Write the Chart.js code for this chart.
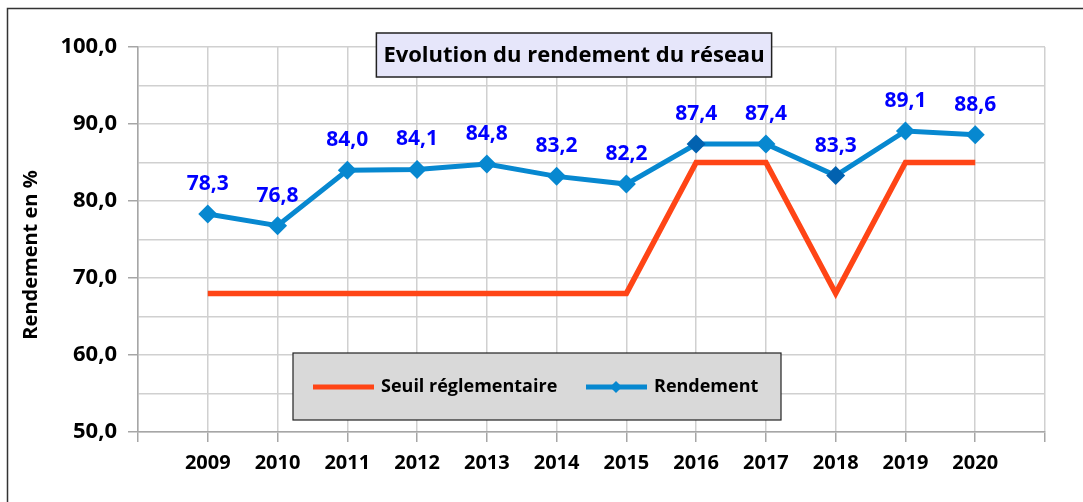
<!DOCTYPE html>
<html>
<head>
<meta charset="utf-8">
<script src="https://cdn.jsdelivr.net/npm/chart.js@4/dist/chart.umd.min.js"></script>
<style>
  html, body { margin: 0; padding: 0; background: #fff; }
  #wrap { position: relative; width: 1083px; height: 502px; }
</style>
</head>
<body>
<div id="wrap"><canvas id="rendementChart"></canvas></div>
<script>
// Données
const annees = ['2009', '2010', '2011', '2012', '2013', '2014', '2015', '2016', '2017', '2018', '2019', '2020'];
const rendement = [78.3, 76.8, 84.0, 84.1, 84.8, 83.2, 82.2, 87.4, 87.4, 83.3, 89.1, 88.6];
const seuil = [68, 68, 68, 68, 68, 68, 68, 85, 85, 68, 85, 85];
const yTicks = [50, 60, 70, 80, 90, 100];

const titre = 'Evolution du rendement du réseau';
const titreAxeY = 'Rendement en %';
const FONT = "'Open Sans', 'DejaVu Sans', sans-serif";

// une case vide de chaque côté, comme sur l'original
const labels = [''].concat(annees, ['']);
const pad = arr => [null].concat(arr, [null]);
const frNum = v => v.toFixed(1).replace('.', ',');

const BLUE = '#0788D0';
const BLUE_DARK = '#0262B0';
const ORANGE = '#FF4516';
const darkPts = ['2016', '2018'];

const decorPlugin = {
    id: 'decor',
    beforeDraw: (chart) => {
        const c = chart.ctx;
        c.save();
        c.fillStyle = '#fff';
        c.fillRect(0, 0, chart.width, chart.height);
        c.restore();
    },
    afterDraw: (chart) => {
        const c = chart.ctx;
        c.save();
        // cadre extérieur
        c.strokeStyle = '#333';
        c.lineWidth = 1.5;
        c.beginPath();
        c.moveTo(7.5, chart.height);
        c.lineTo(7.5, 8.5);
        c.lineTo(chart.width, 8.5);
        c.stroke();

        // titre de l'axe Y
        c.save();
        c.translate(31, 255);
        c.rotate(-Math.PI / 2);
        c.font = 'bold 20px ' + FONT;
        c.fillStyle = '#000';
        c.textAlign = 'center';
        c.textBaseline = 'middle';
        c.fillText(titreAxeY, 0, 0);
        c.restore();

        // titre encadré
        c.font = 'bold 22px ' + FONT;
        const tw = c.measureText(titre).width;
        const cx = 574, cy = 55;
        const bw = tw + 14, bh = 44;
        c.fillStyle = '#E6E6FA';
        c.fillRect(cx - bw / 2, cy - bh / 2, bw, bh);
        c.strokeStyle = '#222';
        c.lineWidth = 1.5;
        c.strokeRect(cx - bw / 2, cy - bh / 2, bw, bh);
        c.fillStyle = '#000';
        c.textAlign = 'center';
        c.textBaseline = 'middle';
        c.fillText(titre, cx, cy + 1);

        // légende
        const lx = 293, ly = 353, lw = 488, lh = 67;
        c.fillStyle = '#D9D9D9';
        c.fillRect(lx, ly, lw, lh);
        c.strokeStyle = '#222';
        c.lineWidth = 1.2;
        c.strokeRect(lx, ly, lw, lh);
        const items = [
            { ds: chart.data.datasets[0], x: 313 },
            { ds: chart.data.datasets[1], x: 586 }
        ];
        const my = ly + 34;
        c.font = 'bold 18px ' + FONT;
        c.textAlign = 'left';
        c.textBaseline = 'middle';
        items.forEach(it => {
            c.strokeStyle = it.ds.borderColor;
            c.lineWidth = 5;
            c.beginPath();
            c.moveTo(it.x, my);
            c.lineTo(it.x + 61, my);
            c.stroke();
            if (it.ds.pointRadius > 0) {
                const r = 6, px = it.x + 30;
                c.fillStyle = it.ds.borderColor;
                c.beginPath();
                c.moveTo(px - r, my); c.lineTo(px, my - r);
                c.lineTo(px + r, my); c.lineTo(px, my + r);
                c.closePath();
                c.fill();
            }
            c.fillStyle = '#000';
            c.fillText(it.ds.label, it.x + 68, my);
        });

        // étiquettes de valeurs
        const meta = chart.getDatasetMeta(1);
        c.font = 'bold 21px ' + FONT;
        c.fillStyle = '#0000FF';
        c.textAlign = 'center';
        c.textBaseline = 'alphabetic';
        meta.data.forEach((pt, i) => {
            const v = chart.data.datasets[1].data[i];
            if (v == null) return;
            c.fillText(frNum(v), pt.x, pt.y - 24);
        });
        c.restore();
    }
};

new Chart(document.getElementById('rendementChart'), {
    type: 'line',
    data: {
        labels: labels,
        datasets: [{
            label: 'Seuil réglementaire',
            data: pad(seuil),
            borderColor: ORANGE,
            backgroundColor: ORANGE,
            borderWidth: 5.5,
            pointRadius: 0,
            tension: 0,
            borderJoinStyle: 'miter'
        }, {
            label: 'Rendement',
            data: pad(rendement),
            borderColor: BLUE,
            backgroundColor: BLUE,
            borderWidth: 5,
            pointStyle: 'rectRot',
            pointRadius: 9.5,
            pointBorderWidth: 0,
            pointBackgroundColor: labels.map(l => darkPts.includes(l) ? BLUE_DARK : BLUE),
            tension: 0
        }]
    },
    options: {
        responsive: true,
        maintainAspectRatio: false,
        animation: false,
        layout: { padding: { left: 0, top: 47, right: 38, bottom: 0 } },
        plugins: {
            legend: { display: false },
            tooltip: { enabled: false }
        },
        scales: {
            x: {
                offset: false,
                afterFit: (s) => { s.height = 70; },
                grid: { color: '#D0D0D0', lineWidth: 1.5, tickLength: 10, tickColor: '#A6A6A6' },
                border: { color: '#A6A6A6', width: 1.5 },
                ticks: {
                    autoSkip: false, maxRotation: 0, padding: 9, color: '#000',
                    font: { family: FONT, size: 20, weight: 'bold' }
                }
            },
            y: {
                min: 50,
                max: 100,
                afterFit: (s) => { s.width = 138; },
                grid: {
                    color: '#D0D0D0', lineWidth: 1.5, tickLength: 10,
                    tickColor: (ctx) => yTicks.includes(ctx.tick && ctx.tick.value) ? '#A6A6A6' : 'rgba(0,0,0,0)'
                },
                border: { color: '#A6A6A6', width: 1.5 },
                ticks: {
                    stepSize: 5, padding: 11, color: '#000',
                    font: { family: FONT, size: 22, weight: 'bold' },
                    callback: (v) => yTicks.includes(v) ? frNum(v) : ''
                }
            }
        }
    },
    plugins: [decorPlugin]
});
</script>
</body>
</html>
